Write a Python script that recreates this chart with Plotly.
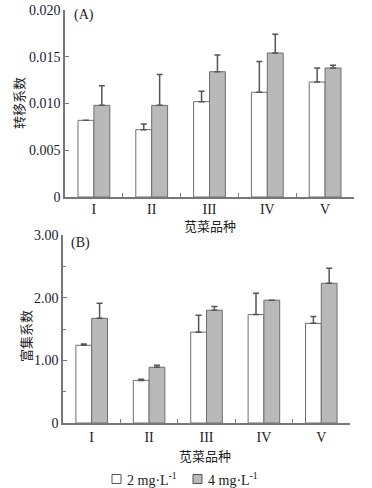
import plotly.graph_objects as go
from plotly.subplots import make_subplots

categories = ["I", "II", "III", "IV", "V"]

# Panel A: transfer coefficient
tf_2mg = [0.0082, 0.0072, 0.0102, 0.0112, 0.0123]
tf_2mg_err = [0.0000, 0.0006, 0.0011, 0.0033, 0.0015]
tf_4mg = [0.0098, 0.0098, 0.0134, 0.0154, 0.0138]
tf_4mg_err = [0.0021, 0.0033, 0.0018, 0.0020, 0.0003]

# Panel B: bioconcentration coefficient
bc_2mg = [1.24, 0.68, 1.45, 1.73, 1.59]
bc_2mg_err = [0.02, 0.02, 0.27, 0.34, 0.11]
bc_4mg = [1.67, 0.89, 1.80, 1.96, 2.23]
bc_4mg_err = [0.24, 0.03, 0.06, 0.00, 0.24]

series_names = ["2 mg·L<sup>-1</sup>", "4 mg·L<sup>-1</sup>"]

W, H = 372, 488

fig = make_subplots(rows=2, cols=1)

white_fill = "#ffffff"
gray_fill = "#b9b9b9"
edge = "#6e6e6e"
err_col = "#555555"
serif = "Liberation Serif, DejaVu Serif, Times New Roman, serif"
cjk = "Noto Sans CJK SC"
txt = "#222222"

def add_pair(row, v1, e1, v2, e2):
    fig.add_trace(go.Bar(
        x=categories, y=v1, name=series_names[0], showlegend=False,
        marker=dict(color=white_fill, line=dict(color=edge, width=1)),
        error_y=dict(type="data", array=e1, arrayminus=[0]*len(e1), symmetric=False,
                     color=err_col, thickness=1.5, width=3),
    ), row=row, col=1)
    fig.add_trace(go.Bar(
        x=categories, y=v2, name=series_names[1], showlegend=False,
        marker=dict(color=gray_fill, line=dict(color=edge, width=1)),
        error_y=dict(type="data", array=e2, arrayminus=[0]*len(e2), symmetric=False,
                     color=err_col, thickness=1.5, width=3),
    ), row=row, col=1)

add_pair(1, tf_2mg, tf_2mg_err, tf_4mg, tf_4mg_err)
add_pair(2, bc_2mg, bc_2mg_err, bc_4mg, bc_4mg_err)

def px_x(p):
    return p / W

def px_y(p):
    return 1 - p / H

xdomA = [px_x(65), px_x(354)]
xdomB = [px_x(63), px_x(350)]
common_x = dict(
    showline=True, linecolor="#777", linewidth=1.5,
    ticks="inside", ticklen=4, tickcolor="#777", tickson="boundaries",
    tickfont=dict(family=serif, size=14, color=txt),
    range=[-0.5, 4.5], showgrid=False, automargin=False,
)
fig.update_xaxes(domain=xdomA, ticklabelstandoff=-2, **common_x, row=1, col=1)
fig.update_xaxes(domain=xdomB, **common_x, row=2, col=1)

fig.update_yaxes(
    domain=[px_y(197), px_y(10)], range=[0, 0.020], showline=True, linecolor="#777", linewidth=1.5,
    ticks="inside", ticklen=4, tickcolor="#777", showgrid=False, zeroline=False, automargin=False,
    tickvals=[0, 0.005, 0.010, 0.015, 0.020],
    ticktext=["0", "0.005", "0.010", "0.015", "0.020"],
    tickfont=dict(family=serif, size=14, color="#1a1a33"),
    row=1, col=1,
)
fig.update_yaxes(
    domain=[px_y(423), px_y(235)], range=[0, 3.0], showline=True, linecolor="#777", linewidth=1.5,
    ticks="inside", ticklen=4, tickcolor="#777", showgrid=False, zeroline=False, automargin=False,
    tickvals=[0, 1, 2, 3],
    ticktext=["0", "1.00", "2.00", "3.00"],
    minor=dict(tickvals=[0.5, 1.5, 2.5], ticks="inside", ticklen=3, tickcolor="#777"),
    tickfont=dict(family=serif, size=14, color="#1a1a33"),
    row=2, col=1,
)

def ann(text, x, y, font, **kw):
    fig.add_annotation(text=text, x=px_x(x), y=px_y(y), xref="paper", yref="paper",
                       showarrow=False, font=font, **kw)

cjk_font = dict(family=cjk, size=13, color=txt)
cjk_font_y = dict(family=cjk, size=13, color=txt)
ser_font = dict(family=serif, size=14, color=txt)

# axis titles
ann("苋菜品种", 210, 225, cjk_font, xanchor="center", yanchor="middle")
ann("苋菜品种", 205, 455, cjk_font, xanchor="center", yanchor="middle")
ann("转移系数", 18, 103, cjk_font_y, xanchor="center", yanchor="middle", textangle=-90)
ann("富集系数", 25, 336, cjk_font_y, xanchor="center", yanchor="middle", textangle=-90)

# panel labels
ann("(A)", 72, 15, ser_font, xanchor="left", yanchor="middle")
ann("(B)", 69, 243, ser_font, xanchor="left", yanchor="middle")

# manual legend
leg_y = 479
for (x0, fill, label) in [(112, white_fill, series_names[0]), (193, gray_fill, series_names[1])]:
    fig.add_shape(type="rect", xref="paper", yref="paper",
                  x0=px_x(x0), x1=px_x(x0 + 9), y0=px_y(leg_y + 4.5), y1=px_y(leg_y - 4.5),
                  fillcolor=fill, line=dict(color="#555", width=1))
    ann(label, x0 + 13, leg_y, dict(family=serif, size=14, color=txt),
        xanchor="left", yanchor="middle")

fig.update_layout(
    width=W, height=H,
    margin=dict(l=0, r=0, t=0, b=0, autoexpand=False),
    paper_bgcolor="white", plot_bgcolor="white",
    barmode="group", bargap=0.45, bargroupgap=0,
    showlegend=False,
)

fig.write_html(
    "out.html",
    config={"displayModeBar": False},
    post_script="document.body.style.margin='0';document.body.style.overflow='hidden';",
)
